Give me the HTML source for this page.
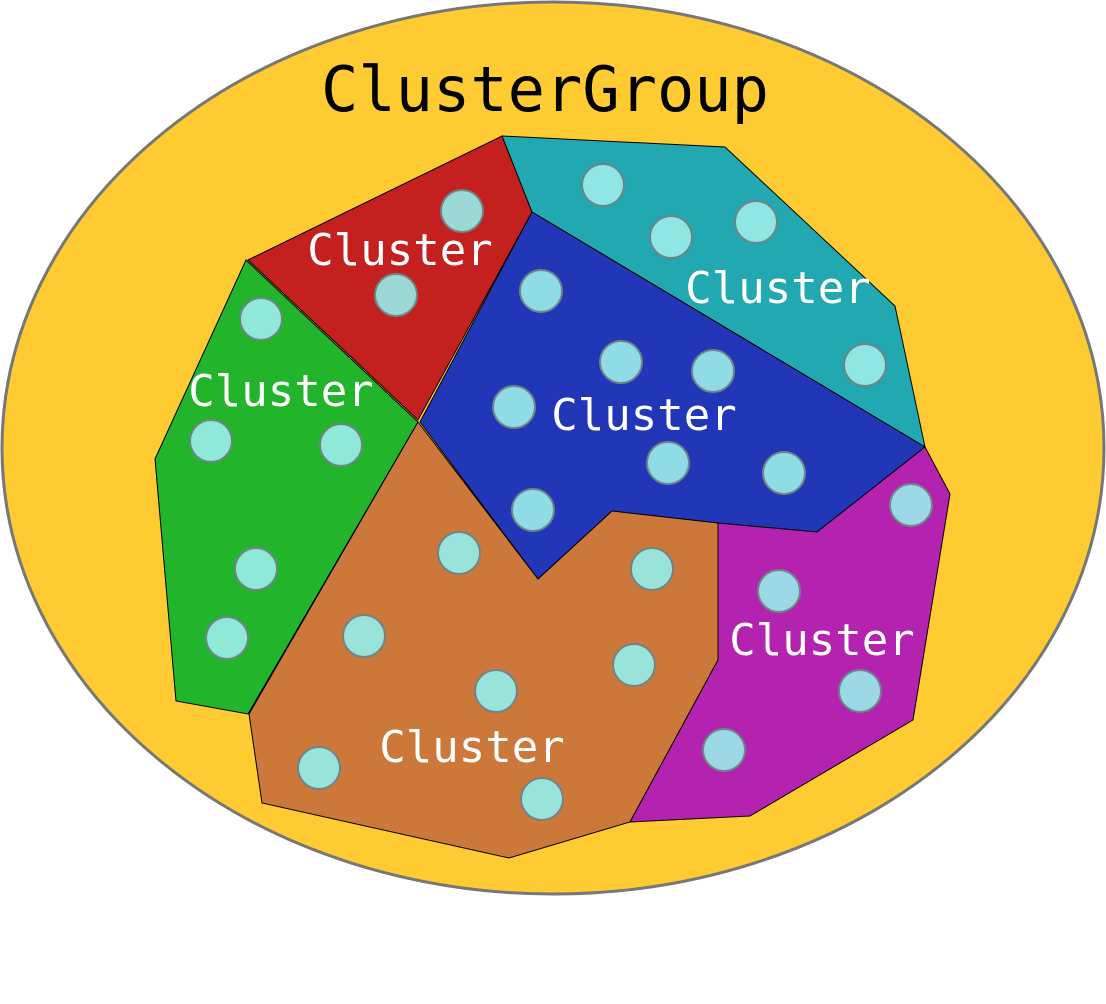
<!DOCTYPE html>
<html><head><meta charset="utf-8"><style>html,body{margin:0;padding:0;background:#fff}svg{display:block}</style></head>
<body>
<svg width="1106" height="1004" viewBox="0 0 1106 1004" xmlns="http://www.w3.org/2000/svg">
<ellipse cx="553" cy="448" rx="551" ry="446" fill="#FECB33" stroke="#777" stroke-width="3"/>
<g stroke="#000" stroke-width="1">
<polygon points="248,260 502,136 532,212 418,420" fill="#C42020"/>
<polygon points="502,136 725,147 895,306 925,447 532,212" fill="#22A8B0"/>
<polygon points="532,212 925,447 817,532 718,523 612,511 538,579 420,422" fill="#2236B8"/>
<polygon points="246,260 418,422 248,714 176,701 155,459" fill="#22B42A"/>
<polygon points="418,422 538,579 612,511 718,523 718,660 630,822 509,858 262,803 249,714" fill="#CC783A"/>
<polygon points="718,523 817,532 925,447 950,494 913,720 750,816 630,822 718,660" fill="#B422B0"/>
</g>
<g stroke="#6f8585" stroke-width="2">
<g fill="#9cd9d6"><circle cx="462" cy="211" r="21"/><circle cx="396" cy="295" r="21"/></g>
<g fill="#8fe6e3"><circle cx="603" cy="185" r="21"/><circle cx="671" cy="237" r="21"/><circle cx="756" cy="222" r="21"/><circle cx="865" cy="365" r="21"/></g>
<g fill="#8fdce6"><circle cx="541" cy="291" r="21"/><circle cx="621" cy="362" r="21"/><circle cx="713" cy="371" r="21"/><circle cx="514" cy="407" r="21"/><circle cx="668" cy="463" r="21"/><circle cx="784" cy="473" r="21"/><circle cx="533" cy="510" r="21"/></g>
<g fill="#8fe8d8"><circle cx="261" cy="319" r="21"/><circle cx="211" cy="441" r="21"/><circle cx="341" cy="445" r="21"/><circle cx="256" cy="569" r="21"/><circle cx="227" cy="638" r="21"/></g>
<g fill="#9ae3da"><circle cx="459" cy="553" r="21"/><circle cx="652" cy="569" r="21"/><circle cx="364" cy="636" r="21"/><circle cx="634" cy="665" r="21"/><circle cx="496" cy="691" r="21"/><circle cx="319" cy="768" r="21"/><circle cx="542" cy="799" r="21"/></g>
<g fill="#9cd8e6"><circle cx="911" cy="505" r="21"/><circle cx="779" cy="591" r="21"/><circle cx="860" cy="691" r="21"/><circle cx="724" cy="750" r="21"/></g>
</g>
<g font-family="'DejaVu Sans Mono','Liberation Mono',monospace" text-anchor="middle">
<text x="545" y="111" font-size="62" fill="#000">ClusterGroup</text>
<g font-size="44" fill="#fff">
<text x="400" y="265">Cluster</text>
<text x="778" y="303">Cluster</text>
<text x="281" y="406">Cluster</text>
<text x="644" y="430">Cluster</text>
<text x="822" y="655">Cluster</text>
<text x="472" y="762">Cluster</text>
</g></g>
</svg>
</body></html>
